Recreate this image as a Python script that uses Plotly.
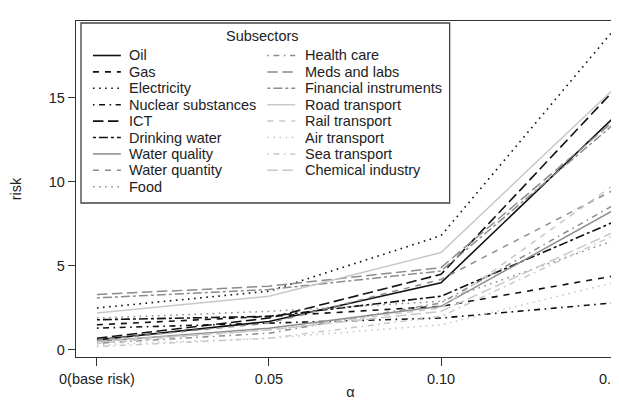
import plotly.graph_objects as go

alpha = [0, 0.05, 0.10, 0.15]
tick_labels = ["0(base risk)", "0.05", "0.10", "0.15"]

oil = [0.6, 1.7, 4.0, 13.8]
gas = [1.5, 2.0, 2.6, 4.4]
electricity = [2.5, 3.5, 6.8, 19.0]
nuclear = [1.3, 1.6, 1.9, 2.8]
ict = [0.7, 1.9, 4.5, 15.4]
drinking_water = [1.8, 2.0, 3.2, 7.6]
water_quality = [0.5, 1.3, 2.6, 8.3]
water_quantity = [0.6, 1.6, 4.2, 9.5]
food = [1.9, 2.3, 2.9, 6.5]
health_care = [0.4, 1.0, 2.8, 8.6]
meds_labs = [3.3, 3.8, 4.9, 13.6]
financial = [3.1, 3.6, 4.7, 13.4]
road = [2.2, 3.2, 5.8, 15.5]
rail = [0.4, 1.2, 2.5, 9.8]
air = [0.3, 0.7, 1.5, 4.0]
sea = [0.2, 0.7, 2.0, 6.8]
chemical = [0.5, 1.2, 2.3, 7.0]

names = ["Oil", "Gas", "Electricity", "Nuclear substances", "ICT", "Drinking water",
         "Water quality", "Water quantity", "Food", "Health care", "Meds and labs",
         "Financial instruments", "Road transport", "Rail transport", "Air transport",
         "Sea transport", "Chemical industry"]
series = [oil, gas, electricity, nuclear, ict, drinking_water, water_quality,
          water_quantity, food, health_care, meds_labs, financial, road, rail, air,
          sea, chemical]

BLACK = "#111111"
GRAY = "#8c8c8c"
LIGHT = "#c8c8c8"
SOLID = "solid"
DASHED = "6px,6px"
DOTTED = "1.6px,4.5px"
DOTDASH = "1.6px,4.5px,6px,4.5px"
LONGDASH = "10.5px,4.5px"
TWODASH = "3px,3px,9px,3px"

styles = [
    (BLACK, SOLID), (BLACK, DASHED), (BLACK, DOTTED), (BLACK, DOTDASH), (BLACK, LONGDASH), (BLACK, TWODASH),
    (GRAY, SOLID), (GRAY, DASHED), (GRAY, DOTTED), (GRAY, DOTDASH), (GRAY, LONGDASH), (GRAY, TWODASH),
    (LIGHT, SOLID), (LIGHT, DASHED), (LIGHT, DOTTED), (LIGHT, DOTDASH), (LIGHT, LONGDASH),
]

W, H = 619, 401
ML, MR, MT, MB = 68, 0, 13, 52
PW = W - ML - MR
PH = H - MT - MB


def px(xp):
    return (xp - ML) / PW


def py(yp):
    return (H - MB - yp) / PH


fig = go.Figure()
for i, (nm, vals) in enumerate(zip(names, series)):
    col, dash = styles[i]
    fig.add_trace(go.Scatter(
        x=alpha, y=vals, mode="lines", name=nm, showlegend=False,
        line=dict(color=col, dash=dash, width=1.6 if col == BLACK else 1.5),
    ))

FONT = "Liberation Sans, Arial, sans-serif"
LFS = 14.5

# manual legend (column-major, 9 + 8 entries)
shapes = [dict(type="rect", xref="paper", yref="paper",
               x0=px(73), x1=px(443), y0=py(195), y1=py(15),
               line=dict(color="#444444", width=1.3), fillcolor="white", layer="above")]
annotations = [dict(text="Subsectors", xref="paper", yref="paper",
                    x=px(255), y=py(28), xanchor="center", yanchor="middle",
                    showarrow=False, font=dict(size=LFS, family=FONT, color="#222222"))]
row0, dy = 47.5, 16.4
for i, nm in enumerate(names):
    col, dash = styles[i]
    c, r = (0, i) if i < 9 else (1, i - 9)
    ly = row0 + r * dy
    sx0 = 85 if c == 0 else 260
    tx = 120 if c == 0 else 297
    shapes.append(dict(type="line", xref="paper", yref="paper",
                       x0=px(sx0), x1=px(sx0 + 28), y0=py(ly), y1=py(ly),
                       line=dict(color=col, dash=dash, width=1.6 if col == BLACK else 1.5),
                       layer="above"))
    annotations.append(dict(text=nm, xref="paper", yref="paper",
                            x=px(tx), y=py(ly), xanchor="left", yanchor="middle",
                            showarrow=False, xshift=-1,
                            font=dict(size=LFS, family=FONT, color="#222222")))

fig.update_layout(
    width=W, height=H,
    margin=dict(l=ML, r=MR, t=MT, b=MB),
    paper_bgcolor="white", plot_bgcolor="white",
    font=dict(family=FONT, size=LFS, color="#222222"),
    showlegend=False,
    shapes=shapes,
    annotations=annotations,
    xaxis=dict(
        range=[-0.00608, 0.15347], tickvals=alpha, ticktext=tick_labels,
        showline=True, linecolor="#333333", linewidth=1.3, mirror=True,
        ticks="outside", ticklen=8, tickcolor="#333333", tickwidth=1.3,
        showgrid=False, zeroline=False, ticklabeloverflow="allow",
        tickfont=dict(size=LFS),
        title=dict(text="α", font=dict(size=LFS), standoff=1),
    ),
    yaxis=dict(
        range=[-0.417, 19.58], tickvals=[0, 5, 10, 15],
        showline=True, linecolor="#333333", linewidth=1.3,
        ticks="outside", ticklen=7, tickcolor="#333333", tickwidth=1.3,
        showgrid=False, zeroline=False,
        tickfont=dict(size=LFS),
        title=dict(text="risk", font=dict(size=LFS), standoff=26),
    ),
)

fig.write_html("out.html")
